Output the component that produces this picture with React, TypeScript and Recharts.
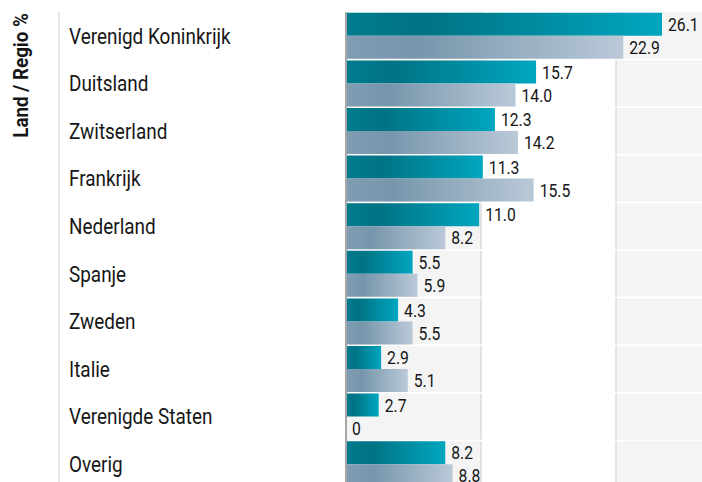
import React from 'react';
import { BarChart, Bar, XAxis, YAxis, CartesianGrid, LabelList } from 'recharts';

const categories = [
  'Verenigd Koninkrijk',
  'Duitsland',
  'Zwitserland',
  'Frankrijk',
  'Nederland',
  'Spanje',
  'Zweden',
  'Italie',
  'Verenigde Staten',
  'Overig',
];
const portefeuille = [26.1, 15.7, 12.3, 11.3, 11.0, 5.5, 4.3, 2.9, 2.7, 8.2];
const benchmark = [22.9, 14.0, 14.2, 15.5, 8.2, 5.9, 5.5, 5.1, 0, 8.8];
const xTicks = [0, 11.15, 22.3, 33.45];

const data = categories.map((name, i) => ({
  name,
  portefeuille: portefeuille[i],
  benchmark: benchmark[i],
}));

const FONT = 'Roboto, "Noto Sans", sans-serif';

function CategoryTick(props: any) {
  const { y, payload } = props;
  return (
    <g transform={`translate(69, ${y}) scale(0.88, 1)`}>
      <text x={0} y={0} dy="0.36em" fontSize={21.5} fill="#161616" fontFamily={FONT} textAnchor="start">
        {payload.value}
      </text>
    </g>
  );
}

function AxisTitle(props: any) {
  const vb = props.viewBox || { x: 0, y: 12, width: 346, height: 476 };
  const top = vb.y;
  return (
    <g>
      <line x1={59} y1={top} x2={59} y2={top + vb.height} stroke="#dedede" strokeWidth={1.5} />
      <g transform={`translate(28, ${top + 1}) rotate(-90) scale(0.94, 1)`}>
        <text x={0} y={0} textAnchor="end" fontSize={20} fontWeight="bold" fill="#161616" fontFamily={FONT}>
          Land / Regio %
        </text>
      </g>
    </g>
  );
}

function ValueLabel(props: any) {
  const { x, y, width, height, value } = props;
  const text = value === 0 ? '0' : Number(value).toFixed(1);
  return (
    <g transform={`translate(${x + width + 6}, ${y + height / 2}) scale(0.85, 1)`}>
      <text x={0} y={0} dy="0.36em" fontSize={18.5} fill="#161616" fontFamily={FONT}>
        {text}
      </text>
    </g>
  );
}

const bandLines = ({ offset }: any) => {
  const top = offset?.top ?? 12;
  const h = offset?.height ?? 476;
  const step = h / categories.length;
  return categories.slice(1).map((_, i) => top + step * (i + 1));
};

export default function App() {
  return (
    <div style={{ position: 'fixed', left: 0, top: 0, width: 702, height: 482, overflow: 'hidden', background: '#fff' }}>
      <BarChart
        width={751}
        height={488}
        data={data}
        layout="vertical"
        margin={{ top: 12, right: 0, bottom: 0, left: 0 }}
        barCategoryGap={0.8}
        barGap={0}
      >
        <defs>
          <linearGradient id="gradTeal" x1="0" y1="0" x2="1" y2="0">
            <stop offset="0%" stopColor="#007c8e" />
            <stop offset="25%" stopColor="#007384" />
            <stop offset="100%" stopColor="#00a6c0" />
          </linearGradient>
          <linearGradient id="gradGrey" x1="0" y1="0" x2="1" y2="0">
            <stop offset="0%" stopColor="#809db2" />
            <stop offset="25%" stopColor="#7796ac" />
            <stop offset="100%" stopColor="#bac9d8" />
          </linearGradient>
        </defs>
        <CartesianGrid
          horizontal={false}
          stroke="#dddddd"
          strokeWidth={1.5}
          verticalFill={['#f4f4f4', '#ffffff']}
          fillOpacity={1}
        />
        <CartesianGrid
          vertical={false}
          stroke="#ffffff"
          strokeWidth={1.5}
          horizontalCoordinatesGenerator={bandLines}
        />
        <XAxis type="number" hide domain={[0, 33.45]} ticks={xTicks} height={0} />
        <YAxis
          type="category"
          dataKey="name"
          width={346}
          axisLine={{ stroke: '#a6a6a6', strokeWidth: 2 }}
          tickLine={false}
          tick={<CategoryTick />}
          label={<AxisTitle />}
        />
        <Bar dataKey="portefeuille" fill="url(#gradTeal)" isAnimationActive={false}>
          <LabelList dataKey="portefeuille" content={<ValueLabel />} />
        </Bar>
        <Bar dataKey="benchmark" fill="url(#gradGrey)" minPointSize={0.1} isAnimationActive={false}>
          <LabelList dataKey="benchmark" content={<ValueLabel />} />
        </Bar>
      </BarChart>
    </div>
  );
}
